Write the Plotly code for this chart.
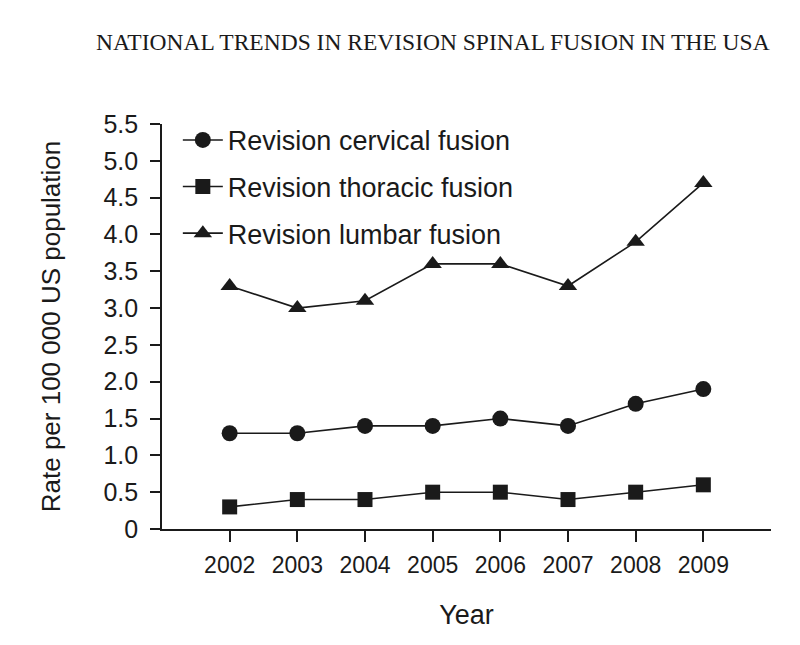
import plotly.graph_objects as go

years = [2002, 2003, 2004, 2005, 2006, 2007, 2008, 2009]
cervical = [1.3, 1.3, 1.4, 1.4, 1.5, 1.4, 1.7, 1.9]
thoracic = [0.3, 0.4, 0.4, 0.5, 0.5, 0.4, 0.5, 0.6]
lumbar = [3.3, 3.0, 3.1, 3.6, 3.6, 3.3, 3.9, 4.7]
series_names = ["Revision cervical fusion", "Revision thoracic fusion", "Revision lumbar fusion"]
y_ticks = [0, 0.5, 1.0, 1.5, 2.0, 2.5, 3.0, 3.5, 4.0, 4.5, 5.0, 5.5]
y_tick_labels = ["0", "0.5", "1.0", "1.5", "2.0", "2.5", "3.0", "3.5", "4.0", "4.5", "5.0", "5.5"]

INK = "#1a1a1a"
SANS = "Liberation Sans, Arial, sans-serif"

fig = go.Figure()
specs = [
    (cervical, "circle", 16),
    (thoracic, "square", 15),
    (lumbar, "triangle-up", 16),
]
for i, (vals, sym, sz) in enumerate(specs):
    fig.add_trace(go.Scatter(
        x=years, y=vals, name=series_names[i], mode="lines+markers",
        legendgroup=f"g{i}",
        line=dict(color=INK, width=1.6),
        marker=dict(symbol=sym, size=sz, color=INK),
    ))

fig.update_layout(
    width=800, height=645,
    paper_bgcolor="white", plot_bgcolor="white",
    margin=dict(l=154, r=37, t=116, b=124),
    title=dict(
        text="NATIONAL TRENDS IN REVISION SPINAL FUSION IN THE USA",
        font=dict(family="Liberation Serif, Times New Roman, serif", size=23.5, color=INK),
        x=0.531, xanchor="center", y=0.948, yanchor="middle",
    ),
    showlegend=True,
    legend=dict(
        x=0.026, y=1.02, xanchor="left", yanchor="top",
        font=dict(family=SANS, size=27, color=INK),
        bgcolor="rgba(0,0,0,0)", tracegroupgap=8.5, traceorder="grouped",
        itemwidth=40,
    ),
    font=dict(family=SANS, color=INK),
)

fig.update_xaxes(
    range=[2001, 2010], tickmode="array", tickvals=years,
    ticktext=[str(y) for y in years],
    showline=True, linecolor=INK, linewidth=1.6,
    ticks="outside", ticklen=11, tickwidth=1.6, tickcolor=INK,
    showgrid=False, zeroline=False, ticklabelstandoff=4,
    tickfont=dict(family=SANS, size=23, color=INK),
    title=dict(text="Year", font=dict(family=SANS, size=27, color=INK), standoff=28),
)
fig.update_yaxes(
    range=[0, 5.5], tickmode="array", tickvals=y_ticks, ticktext=y_tick_labels,
    showline=True, linecolor=INK, linewidth=1.6,
    ticks="outside", ticklen=10, tickwidth=1.6, tickcolor=INK,
    showgrid=False, zeroline=False, ticklabelstandoff=7,
    tickfont=dict(family=SANS, size=25, color=INK),
    title=dict(text="Rate per 100 000 US population", font=dict(family=SANS, size=26, color=INK), standoff=35),
)

fig.write_html("out.html")
